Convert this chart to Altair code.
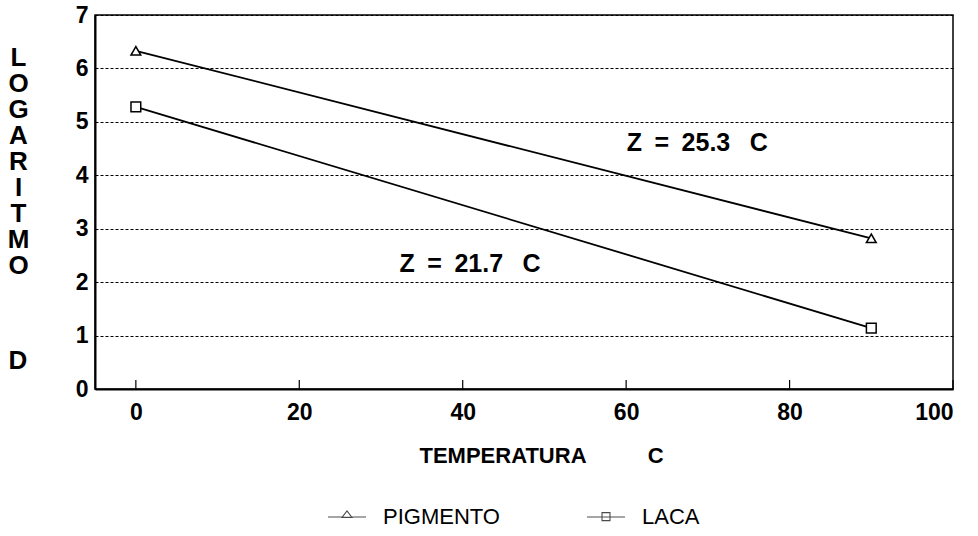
import altair as alt
import pandas as pd

# ---- data ----
temps = [0, 90]
pigmento = [6.33, 2.82]
laca = [5.28, 1.14]
series_names = ["PIGMENTO", "LACA"]

ann_x = [68.7, 40.9]
ann_y = [4.6, 2.34]
ann_text = ["Z\u2002=\u200225.3\u2002\u00a0C", "Z\u2002=\u200221.7\u2002\u00a0C"]

x_ticks = [0, 20, 40, 60, 80, 100]
y_ticks = [0, 1, 2, 3, 4, 5, 6, 7]

rows = []
for t, p in zip(temps, pigmento):
    rows.append({"temp": t, "val": p, "serie": "PIGMENTO"})
for t, l in zip(temps, laca):
    rows.append({"temp": t, "val": l, "serie": "LACA"})
df = pd.DataFrame(rows)
ann = pd.DataFrame({"x": ann_x, "y": ann_y, "label": ann_text})
ticks_df = pd.DataFrame({"x": x_ticks, "y0": [0] * len(x_ticks), "y1": [0.17] * len(x_ticks)})

FONT = "Liberation Sans"

xscale = alt.Scale(domain=[-5, 100], nice=False, zero=False)
yscale = alt.Scale(domain=[0, 7], nice=False)

xaxis = alt.Axis(
    values=x_ticks, grid=False, tickSize=0, labelPadding=12, format="d",
    labelFont=FONT, labelFontSize=23, labelFontWeight="bold", labelColor="black",
    domainColor="black", domainWidth=2,
    title="TEMPERATURA" + "\u00a0" * 10 + "C",
    titleFont=FONT, titleFontSize=22, titleFontWeight="bold", titleColor="black",
    titleX=446, titleY=73, titleBaseline="alphabetic", titleAlign="center",
)
yaxis = alt.Axis(
    values=y_ticks, grid=True, gridColor="black", gridDash=[3, 2], gridWidth=1,
    tickSize=0, labelPadding=7, format="d",
    labelFont=FONT, labelFontSize=23, labelFontWeight="bold", labelColor="black",
    domainColor="black", domainWidth=2,
    title=["L", "O", "G", "A", "R", "I", "T", "M", "O"],
    titleAngle=0, titleX=-77, titleY=29, titleBaseline="top", titleAlign="center",
    titleLineHeight=26, titleFont=FONT, titleFontSize=26, titleFontWeight="bold",
    titleColor="black",
)

base = alt.Chart(df)

lines = base.mark_line(color="black", strokeWidth=1.8).encode(
    x=alt.X("temp:Q", scale=xscale, axis=xaxis),
    y=alt.Y("val:Q", scale=yscale, axis=yaxis),
    detail="serie:N",
)

points = base.mark_point(filled=True, fill="white", stroke="black", strokeWidth=1.5, size=95, opacity=1).encode(
    x=alt.X("temp:Q", scale=xscale),
    y=alt.Y("val:Q", scale=yscale),
    shape=alt.Shape("serie:N", scale=alt.Scale(domain=series_names, range=["triangle-up", "square"]), legend=None),
)

tri_path = "M-1,0H-0.26M0.26,0H1M-0.26,0.02L0,-0.32L0.26,0.02Z"
sq_path = "M-1,0H1M-0.21,-0.23H0.21V0.19H-0.21Z"

legend_layer = base.transform_filter("false").mark_point(filled=False, color="black", strokeWidth=1.1).encode(
    x=alt.X("temp:Q", scale=xscale),
    y=alt.Y("val:Q", scale=yscale),
    shape=alt.Shape(
        "serie:N",
        scale=alt.Scale(domain=series_names, range=[tri_path, sq_path]),
        legend=alt.Legend(
            title=None, orient="none", direction="horizontal",
            legendX=232, legendY=482,
            symbolSize=1444, symbolStrokeColor="black", symbolFillColor="white",
            symbolStrokeWidth=1.1, labelOffset=16, columnPadding=84,
            labelFont=FONT, labelFontSize=22, labelFontWeight="normal", labelColor="black",
        ),
    ),
)

rules = alt.Chart(ticks_df).mark_rule(color="black", strokeWidth=1.2).encode(
    x=alt.X("x:Q", scale=xscale),
    y=alt.Y("y0:Q", scale=yscale),
    y2="y1:Q",
)

texts = alt.Chart(ann).mark_text(font=FONT, fontSize=25, fontWeight="bold", color="black").encode(
    x=alt.X("x:Q", scale=xscale),
    y=alt.Y("y:Q", scale=yscale),
    text="label:N",
)

d_letter = alt.Chart(ann).transform_filter("datum.x > 60").mark_text(
    font=FONT, fontSize=26, fontWeight="bold", color="black", baseline="middle", align="center"
).encode(x=alt.value(-77), y=alt.value(346), text=alt.value("D"))

chart = alt.layer(rules, lines, points, legend_layer, texts, d_letter).resolve_scale(
    shape="independent"
).properties(
    width=858, height=374,
    autosize=alt.AutoSizeParams(type="none"),
    padding={"left": 95, "top": 15, "right": 25, "bottom": 147},
    background="white",
).configure_view(stroke="black", strokeWidth=1.5)

chart.save("out.html", embed_options={"renderer": "svg", "actions": False})
